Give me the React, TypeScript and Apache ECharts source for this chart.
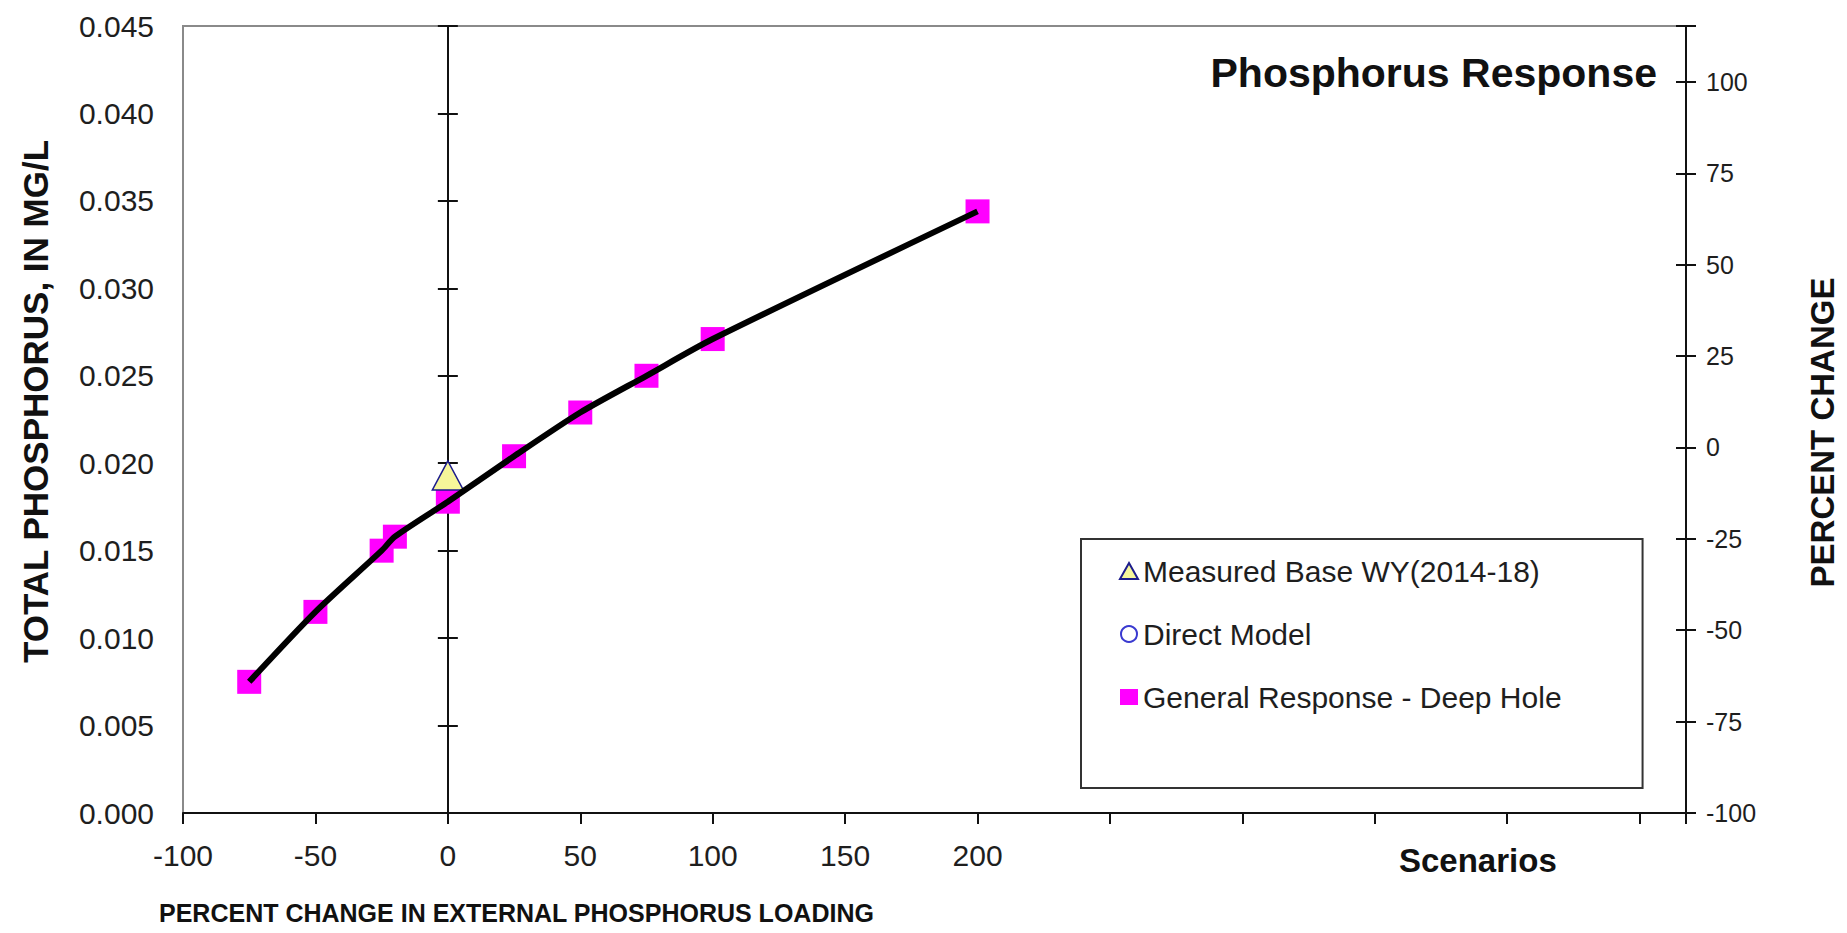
import React, { useEffect, useRef } from "react";
import * as echarts from "echarts";

// ---- data ----
const pctChange = [-75, -50, -25, -20, 0, 25, 50, 75, 100, 200];
const tpResponse = [0.0075, 0.0115, 0.015, 0.0158, 0.0178, 0.0204, 0.0229, 0.025, 0.0271, 0.0344];
const measuredX = [0];
const measuredTP = [0.0193];
const directModelX: number[] = [];
const directModelTP: number[] = [];
const xTickLabels = [-100, -50, 0, 50, 100, 150, 200];

const seriesNames = {
  measured: "Measured Base WY(2014-18)",
  direct: "Direct Model",
  general: "General Response - Deep Hole",
};

const FONT = "'Liberation Sans', Arial, Helvetica, sans-serif";
const TXT = "#1e1e1e";

export default function App() {
  const ref = useRef<HTMLDivElement>(null);

  useEffect(() => {
    if (!ref.current) return;
    const chart = echarts.init(ref.current, undefined, { renderer: "svg" });

    const generalPts = pctChange.map((x, i) => [x, tpResponse[i]]);
    const measuredPts = measuredX.map((x, i) => [x, measuredTP[i]]);
    const directPts = directModelX.map((x, i) => [x, directModelTP[i]]);

    const tpAxisBase = {
      type: "value",
      min: 0,
      max: 0.045,
      interval: 0.005,
      splitLine: { show: false },
    };
    const pctAxisBase = {
      type: "value",
      min: -100,
      max: 115.3,
      interval: 25,
      splitLine: { show: false },
    };

    const option: any = {
      animation: false,
      backgroundColor: "#ffffff",
      textStyle: { fontFamily: FONT, color: TXT },
      title: [
        {
          text: "Phosphorus Response",
          right: 190,
          top: 52,
          padding: 0,
          textStyle: { fontFamily: FONT, fontSize: 41, fontWeight: "bold", color: "#111" },
        },
        {
          text: "PERCENT CHANGE IN EXTERNAL PHOSPHORUS LOADING",
          left: 159,
          top: 900,
          padding: 0,
          textStyle: { fontFamily: FONT, fontSize: 25, fontWeight: "bold", color: "#111" },
        },
        {
          text: "Scenarios",
          left: 1399,
          top: 844,
          padding: 0,
          textStyle: { fontFamily: FONT, fontSize: 33, fontWeight: "bold", color: "#111" },
        },
      ],
      grid: {
        left: 183,
        top: 26,
        right: 160,
        bottom: 120,
        show: true,
        borderColor: "#8a8a8a",
        borderWidth: 2,
        backgroundColor: "transparent",
      },
      legend: {
        orient: "vertical",
        left: 1081,
        top: 539,
        itemWidth: 18,
        itemHeight: 16,
        itemGap: 33,
        padding: [17, 81, 76, 38],
        borderColor: "#333",
        borderWidth: 2,
        backgroundColor: "#ffffff",
        textStyle: { fontFamily: FONT, fontSize: 30, color: TXT },
        data: [seriesNames.measured, seriesNames.direct, seriesNames.general],
      },
      xAxis: [
        {
          type: "value",
          min: -100,
          max: 467.5,
          interval: 50,
          position: "bottom",
          axisLine: { onZero: false, lineStyle: { color: "#111", width: 2 } },
          axisTick: { show: true, inside: false, length: 11, lineStyle: { color: "#111", width: 2 } },
          axisLabel: {
            margin: 27,
            fontSize: 30,
            color: TXT,
            fontFamily: FONT,
            formatter: (v: number) => (xTickLabels.indexOf(v) >= 0 ? String(v) : ""),
          },
          splitLine: { show: false },
        },
      ],
      yAxis: [
        {
          ...tpAxisBase,
          position: "left",
          name: "TOTAL PHOSPHORUS, IN MG/L",
          nameLocation: "middle",
          nameGap: 130,
          nameTextStyle: {
            fontFamily: FONT,
            fontSize: 35,
            fontWeight: "bold",
            color: "#111",
            padding: [0, 0, 0, 36],
          },
          axisLine: { show: false, onZero: false },
          axisTick: { show: false },
          axisLabel: {
            margin: 29,
            fontSize: 30,
            color: TXT,
            fontFamily: FONT,
            formatter: (v: number) => v.toFixed(3),
          },
        },
        {
          ...pctAxisBase,
          position: "right",
          name: "PERCENT CHANGE",
          nameLocation: "middle",
          nameGap: 120,
          nameTextStyle: {
            fontFamily: FONT,
            fontSize: 33,
            fontWeight: "bold",
            color: "#111",
            padding: [0, 26, 0, 0],
          },
          axisLine: { show: true, onZero: false, lineStyle: { color: "#111", width: 2 } },
          axisTick: { show: true, inside: false, length: 10, lineStyle: { color: "#111", width: 2 } },
          axisLabel: {
            margin: 20,
            fontSize: 25,
            color: TXT,
            fontFamily: FONT,
            formatter: (v: number) => (v <= 100 && v % 25 === 0 ? String(v) : ""),
          },
        },
        {
          ...pctAxisBase,
          position: "right",
          axisLine: { show: false, onZero: false },
          axisTick: { show: true, inside: true, length: 10, lineStyle: { color: "#111", width: 2 } },
          axisLabel: { show: false },
        },
        {
          ...tpAxisBase,
          position: "left",
          axisLine: { show: true, onZero: true, onZeroAxisIndex: 0, lineStyle: { color: "#111", width: 2 } },
          axisTick: { show: true, inside: false, length: 10, lineStyle: { color: "#111", width: 2 } },
          axisLabel: { show: false },
        },
        {
          ...tpAxisBase,
          position: "left",
          axisLine: { show: false, onZero: true, onZeroAxisIndex: 0 },
          axisTick: { show: true, inside: true, length: 10, lineStyle: { color: "#111", width: 2 } },
          axisLabel: { show: false },
        },
      ],
      series: [
        {
          name: seriesNames.general,
          type: "scatter",
          xAxisIndex: 0,
          yAxisIndex: 0,
          symbol: "rect",
          symbolSize: 24,
          itemStyle: { color: "#ff00ff", opacity: 1 },
          data: generalPts,
          z: 2,
        },
        {
          name: seriesNames.measured,
          type: "scatter",
          xAxisIndex: 0,
          yAxisIndex: 0,
          symbol: "triangle",
          symbolSize: [31, 29],
          itemStyle: { color: "#f6f69a", borderColor: "#1c1c8c", borderWidth: 1.5, opacity: 1 },
          data: measuredPts,
          z: 3,
        },
        {
          name: seriesNames.direct,
          type: "scatter",
          xAxisIndex: 0,
          yAxisIndex: 0,
          symbol: "circle",
          symbolSize: 14,
          itemStyle: { color: "#ffffff", borderColor: "#3a3ad0", borderWidth: 2, opacity: 1 },
          data: directPts,
          z: 3,
        },
        {
          name: "Response curve",
          type: "line",
          xAxisIndex: 0,
          yAxisIndex: 0,
          smooth: 0.25,
          showSymbol: false,
          symbol: "none",
          lineStyle: { color: "#000000", width: 6 },
          data: generalPts,
          z: 5,
        },
      ],
    };

    chart.setOption(option);
    return () => chart.dispose();
  }, []);

  return (
    <div
      ref={ref}
      style={{ position: "absolute", left: 0, top: 0, width: 1847, height: 933, background: "#fff" }}
    />
  );
}
